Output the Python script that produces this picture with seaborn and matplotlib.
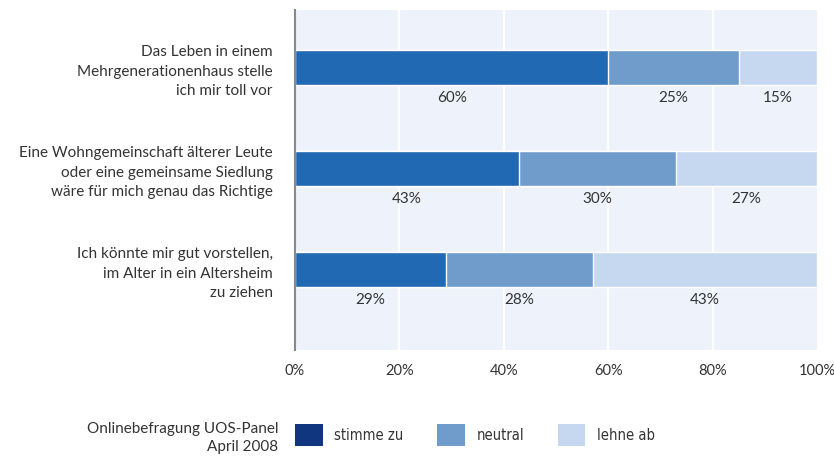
import numpy as np
import pandas as pd
import seaborn as sns
import matplotlib.pyplot as plt
from matplotlib.patches import Patch

# data
statements = ['Das Leben in einem\nMehrgenerationenhaus stelle\nich mir toll vor',
              'Eine Wohngemeinschaft älterer Leute\noder eine gemeinsame Siedlung\nwäre für mich genau das Richtige',
              'Ich könnte mir gut vorstellen,\nim Alter in ein Altersheim\nzu ziehen']
answers = ['stimme zu', 'neutral', 'lehne ab']
stimme_zu = [60, 43, 29]
neutral = [25, 30, 28]
lehne_ab = [15, 27, 43]
xticks = [0, 20, 40, 60, 80, 100]
source = 'Onlinebefragung UOS-Panel\nApril 2008'

bar_colors = ['#2169b3', '#6f9ccb', '#c5d8f0']
legend_colors = ['#103680', '#6f9ccb', '#c5d8f0']
txt = '#333333'

sns.set_style('white')
plt.rcParams['font.family'] = ['Lato', 'DejaVu Sans']

df = pd.DataFrame({'statement': statements, 'stimme zu': stimme_zu,
                   'neutral': neutral, 'lehne ab': lehne_ab})
cum = df[answers].cumsum(axis=1)

fig = plt.figure(figsize=(8.34, 4.62), dpi=100)
ax = fig.add_axes([0.3537, 0.2424, 0.6259, 0.7359])
ax.set_facecolor('#eef3fb')

# stacked trick: draw the cumulative totals from the back
for k in [2, 1, 0]:
    sns.barplot(x=cum[answers[k]], y=df['statement'], orient='h', color=bar_colors[k],
                width=0.35, saturation=1, ax=ax, zorder=3)

for xt in xticks[1:-1]:
    ax.axvline(xt, color='white', lw=1.6, zorder=1)

# value labels under the bars
for i in range(len(statements)):
    for k in range(3):
        v = df[answers[k]][i]
        ax.text(cum[answers[k]][i] - v / 2, i + 0.3, f'{v}%', ha='center', va='center',
                fontsize=11, color=txt)

ax.set_xlim(0, 100)
ax.set_ylim(2.8, -0.57)
ax.set_xticks(xticks)
ax.set_xticklabels([f'{t}%' for t in xticks], fontsize=10.5, color=txt)
ax.tick_params(axis='x', length=0, pad=10)
ax.tick_params(axis='y', length=0, pad=16)
ax.set_yticks(range(len(statements)))
ax.set_yticklabels(statements, fontsize=11, color=txt, linespacing=1.5, ha='right')
ax.set_xlabel('')
ax.set_ylabel('')
for s in ['top', 'right', 'bottom']:
    ax.spines[s].set_visible(False)
ax.spines['left'].set_color('#888888')
ax.spines['left'].set_linewidth(1.5)
ax.spines['left'].set_zorder(5)

handles = [Patch(facecolor=c, edgecolor='none') for c in legend_colors]
fig.legend(handles, answers, loc='center left', bbox_to_anchor=(0.338, 0.058), ncol=3,
           frameon=False, handlelength=1.9, handleheight=2.0, handletextpad=0.8,
           columnspacing=2.3,
           prop={'family': 'DejaVu Sans', 'stretch': 'condensed', 'size': 10.5},
           labelcolor=txt)

fig.text(0.334, 0.052, source, ha='right', va='center', fontsize=11, color=txt, linespacing=1.45)

fig.savefig('out.png', dpi=100)
